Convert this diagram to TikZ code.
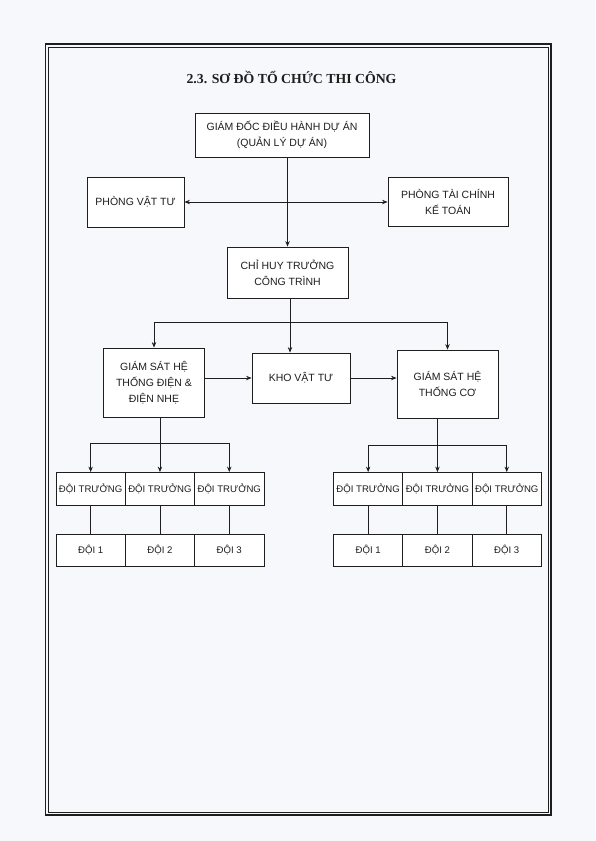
\documentclass[tikz,border=0pt]{standalone}
\usepackage{fontspec}
\setmainfont{Liberation Sans}
\newfontfamily\titlefont{Liberation Serif}
\usepackage{tikz}
\usetikzlibrary{arrows.meta, positioning}
\definecolor{PageBg}{RGB}{246, 248, 251}
\definecolor{Ink}{RGB}{30, 30, 30}

\begin{document}
\begin{tikzpicture}[x=1pt, y=-1pt,
  box/.style={draw=Ink, line width=0.8pt, fill=white, font=\fontsize{10.5}{16}\selectfont, text=Ink, align=center, inner sep=0pt},
  team/.style={box, font=\fontsize{9.6}{12}\selectfont, minimum width=69.3pt, minimum height=33pt},
  squad/.style={box, font=\fontsize{9.6}{12}\selectfont, minimum width=69.3pt, minimum height=32pt},
  arr/.style={-{Stealth[length=5.5pt, width=4.4pt]}, Ink, line width=0.8pt},
  darr/.style={{Stealth[length=5.5pt, width=4.4pt]}-{Stealth[length=5.5pt, width=4.4pt]}, Ink, line width=0.8pt},
  ln/.style={Ink, line width=0.8pt}]
\fill[PageBg] (0,0) rectangle (595,841);
\draw[Ink, line width=1.6pt] (45.5,44) rectangle (551,815);
\draw[Ink, line width=0.5pt] (48.5,47) rectangle (548,812);
\node[font=\titlefont\bfseries\fontsize{13.8}{16}\selectfont, text=Ink] (title) at (291.5,77) {2.3. SƠ ĐỒ TỔ CHỨC THI CÔNG};
\node[box, minimum width=174pt, minimum height=44pt] (gd) at (282,135) {GIÁM ĐỐC ĐIỀU HÀNH DỰ ÁN\\ (QUẢN LÝ DỰ ÁN)};
\node[box, minimum width=97pt, minimum height=50pt] (pvt) at (135.5,202) {PHÒNG VẬT TƯ};
\node[box, minimum width=120pt, minimum height=49pt] (ptc) at (448,202) {PHÒNG TÀI CHÍNH\\ KẾ TOÁN};
\node[box, minimum width=121pt, minimum height=51pt] (ch) at (287.5,272.5) {CHỈ HUY TRƯỞNG\\ CÔNG TRÌNH};
\node[box, minimum width=101pt, minimum height=69pt] (gsd) at (154,382.5) {GIÁM SÁT HỆ\\ THỐNG ĐIỆN \&\\ ĐIỆN NHẸ};
\node[box, minimum width=98pt, minimum height=50pt] (kho) at (301,378) {KHO VẬT TƯ};
\node[box, minimum width=101pt, minimum height=68pt] (gsc) at (447.5,384) {GIÁM SÁT HỆ\\ THỐNG CƠ};
% doi truong
\node[team] (dt1) at (90.65,489) {ĐỘI TRƯỞNG};
\node[team] (dt2) at (159.95,489) {ĐỘI TRƯỞNG};
\node[team] (dt3) at (229.25,489) {ĐỘI TRƯỞNG};
\node[team] (dt4) at (368.15,489) {ĐỘI TRƯỞNG};
\node[team] (dt5) at (437.45,489) {ĐỘI TRƯỞNG};
\node[team] (dt6) at (506.75,489) {ĐỘI TRƯỞNG};
% doi
\node[squad] (d1) at (90.65,550) {ĐỘI 1};
\node[squad] (d2) at (159.95,550) {ĐỘI 2};
\node[squad] (d3) at (229.25,550) {ĐỘI 3};
\node[squad] (d4) at (368.15,550) {ĐỘI 1};
\node[squad] (d5) at (437.45,550) {ĐỘI 2};
\node[squad] (d6) at (506.75,550) {ĐỘI 3};
\coordinate (ms) at (290,322);
\coordinate (ls) at (159.95,443);
\coordinate (rs) at (437.45,445);
\draw[arr] (ch.north |- gd.south) -- (ch.north); \draw[darr] (pvt) -- (ptc);
\draw[arr] (ms |- ch.south) -- (ms |- kho.north); \draw[arr] (ms) -| (gsd.north); \draw[arr] (ms) -| (gsc.north);
\draw[arr] (gsd.east |- kho) -- (kho.west); \draw[arr] (kho.east) -- (kho.east -| gsc.west);
\draw[arr] (dt2.north |- gsd.south) -- (dt2.north); \draw[arr] (ls) -| (dt1.north); \draw[arr] (ls) -| (dt3.north);
\draw[arr] (dt5.north |- gsc.south) -- (dt5.north); \draw[arr] (rs) -| (dt4.north); \draw[arr] (rs) -| (dt6.north);
\draw[ln] (dt1) -- (d1); \draw[ln] (dt2) -- (d2); \draw[ln] (dt3) -- (d3);
\draw[ln] (dt4) -- (d4); \draw[ln] (dt5) -- (d5); \draw[ln] (dt6) -- (d6);
\end{tikzpicture}
\end{document}
